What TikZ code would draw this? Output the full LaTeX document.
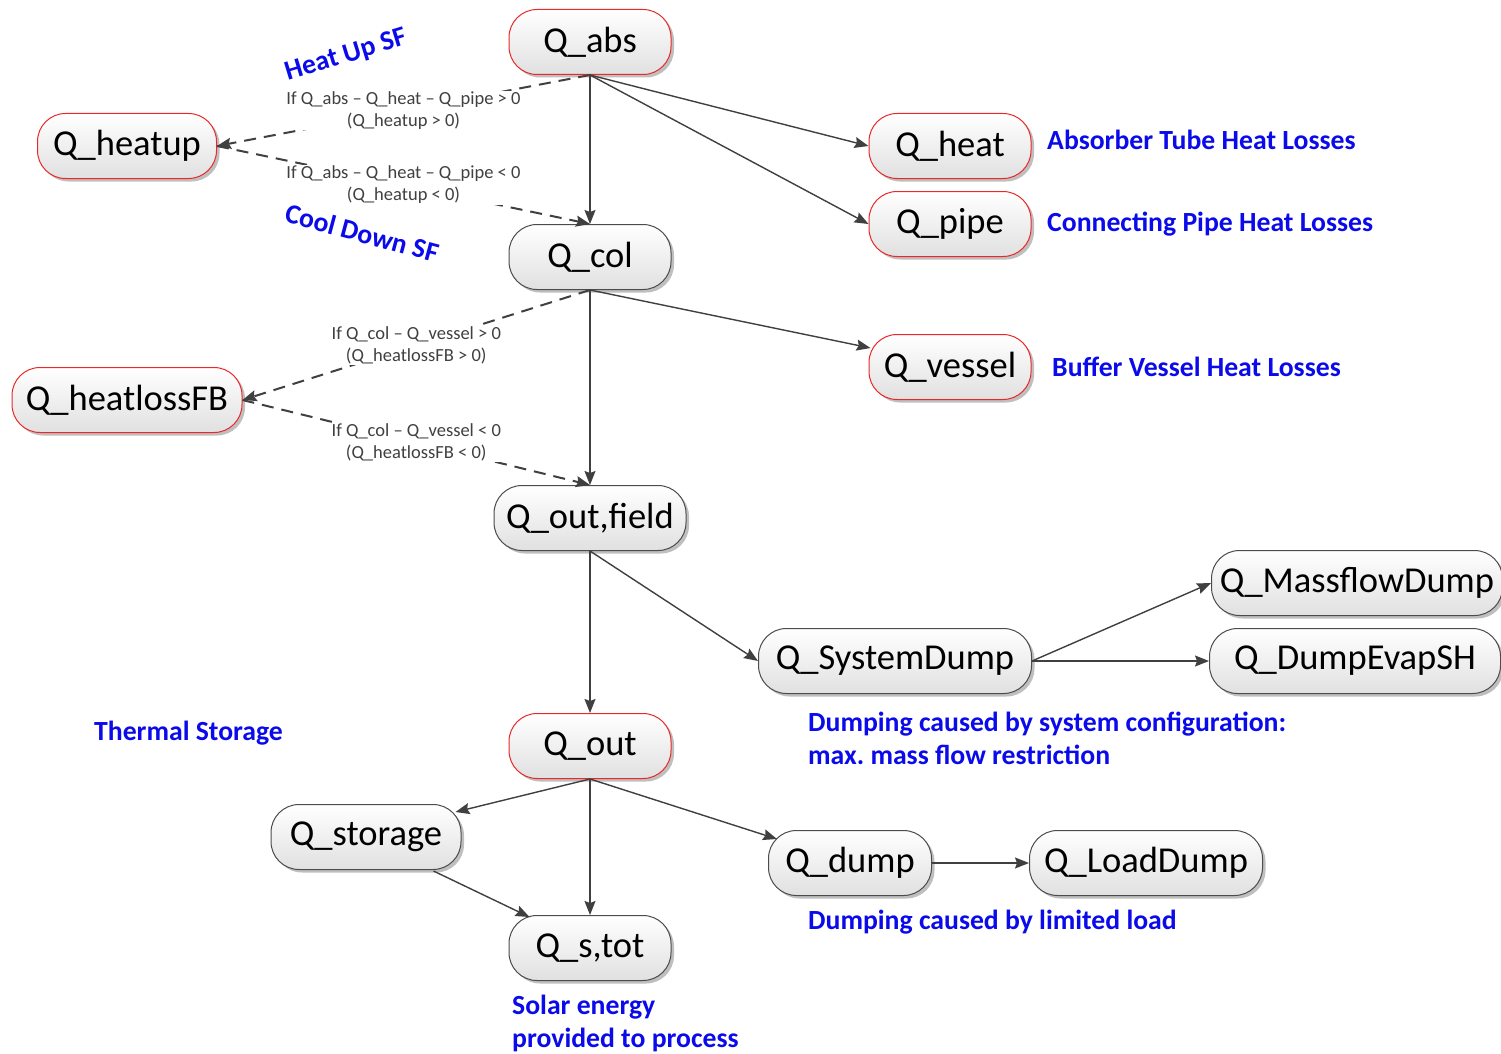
\documentclass[tikz,border=0pt]{standalone}
\usepackage{fontspec}
\setmainfont{Carlito}
\usetikzlibrary{arrows.meta,shadows,calc}
\definecolor{lblue}{RGB}{10,10,235}
\definecolor{edgegray}{RGB}{64,64,64}
\definecolor{rborder}{RGB}{235,40,40}
\frenchspacing
\begin{document}
\begin{tikzpicture}[x=1pt,y=-1pt,
 box/.style={rectangle, rounded corners=28pt, draw=black!70, line width=1pt, top color=white, bottom color=black!12, minimum height=65pt, inner sep=0pt, font=\fontsize{36.5}{40}\selectfont, drop shadow={shadow xshift=3pt,shadow yshift=-3pt,opacity=0.25,fill=black}},
 redbox/.style={box, draw=rborder},
 arr/.style={draw=edgegray, line width=1.4pt, -{Stealth[length=14pt,width=11pt,inset=2pt]}},
 darr/.style={arr, line width=2pt, dash pattern=on 12pt off 8pt},
 cond/.style={fill=white, text=edgegray, font=\fontsize{18.5}{22}\selectfont, align=center, inner sep=1pt},
 note/.style={text=lblue, font=\bfseries\fontsize{27.7}{33}\selectfont, align=left, anchor=west, inner sep=0pt}
]
\fill[white] (0,0) rectangle (1501,1054);
\useasboundingbox (0,0) rectangle (1501,1054);

\node[redbox, minimum width=162pt] (abs) at (590,42) {Q\_abs};
\node[redbox, minimum width=179pt] (heatup) at (127,146) {Q\_heatup};
\node[redbox, minimum width=162pt] (heat) at (950,146) {Q\_heat};
\node[redbox, minimum width=162pt] (pipe) at (950,224) {Q\_pipe};
\node[box, minimum width=162pt] (col) at (590,257) {Q\_col};
\node[redbox, minimum width=162pt] (vessel) at (950,367) {Q\_vessel};
\node[redbox, minimum width=230pt] (hlfb) at (127,400) {Q\_heatlossFB};
\node[box, minimum width=192pt] (ofield) at (590,518) {Q\_out,field};
\node[box, minimum width=273pt] (sysd) at (895,661) {Q\_SystemDump};
\node[box, minimum width=291pt] (mfd) at (1357,583) {Q\_MassflowDump};
\node[box, minimum width=291pt] (des) at (1355,661) {Q\_DumpEvapSH};
\node[redbox, minimum width=162pt] (out) at (590,746) {Q\_out};
\node[box, minimum width=190pt] (stor) at (366,837) {Q\_storage};
\node[box, minimum width=163pt] (dump) at (850,863) {Q\_dump};
\node[box, minimum width=233pt] (ldump) at (1146,863) {Q\_LoadDump};
\node[box, minimum width=162pt] (stot) at (590,948) {Q\_s,tot};

\coordinate (vesselin) at ($(vessel.west)+(2,-19)$);
\coordinate (storin) at ($(stor.north east)+(-6,8)$);
\coordinate (storout) at ($(stor.south east)+(-28,1)$);
\coordinate (stotin) at ($(stot.north west)+(21,2)$);
\coordinate (dumpin) at ($(dump.north west)+(9,9)$);

\draw[arr] (abs.south) -- (col.north);
\draw[arr] (abs.south) -- (heat.west);
\draw[arr] (abs.south) -- (pipe.west);
\draw[darr] (abs.south) -- node[cond]{If Q\_abs – Q\_heat – Q\_pipe > 0\\(Q\_heatup > 0)} (heatup.east);
\draw[darr] (heatup.east) -- node[cond]{If Q\_abs – Q\_heat – Q\_pipe < 0\\(Q\_heatup < 0)} (col.north);

\draw[arr] (col.south) -- (ofield.north);
\draw[arr] (col.south) -- (vesselin);
\draw[darr] (col.south) -- node[cond]{If Q\_col – Q\_vessel > 0\\(Q\_heatlossFB > 0)} (hlfb.east);
\draw[darr] (hlfb.east) -- node[cond]{If Q\_col – Q\_vessel < 0\\(Q\_heatlossFB < 0)} (ofield.north);

\draw[arr] (ofield.south) -- (out.north);
\draw[arr] (ofield.south) -- (sysd.west);
\draw[arr] (sysd.east) -- (mfd.west);
\draw[arr] (sysd.east) -- (des.west);

\draw[arr] (out.south) -- (storin);
\draw[arr] (out.south) -- (stot.north);
\draw[arr] (out.south) -- (dumpin);
\draw[arr] (storout) -- (stotin);
\draw[arr] (dump.east) -- (ldump.west);

\node[note, rotate=17, anchor=center] (hu) at (346,56) {Heat Up SF};
\node[note, rotate=-15, anchor=center] (cd) at (362,233) {Cool Down SF};
\node[note] (n1) at (1047,140) {Absorber Tube Heat Losses};
\node[note] (n2) at (1047,224) {Connecting Pipe Heat Losses};
\node[note] (n3) at (1052,367) {Buffer Vessel Heat Losses};
\node[note] (n4) at (94,733) {Thermal Storage};
\node[note] (n5) at (808,738) {Dumping caused by system configuration:\\max. mass flow restriction};
\node[note] (n6) at (808,922) {Dumping caused by limited load};
\node[note] (n7) at (512,1023) {Solar energy\\provided to process};
\end{tikzpicture}
\end{document}
